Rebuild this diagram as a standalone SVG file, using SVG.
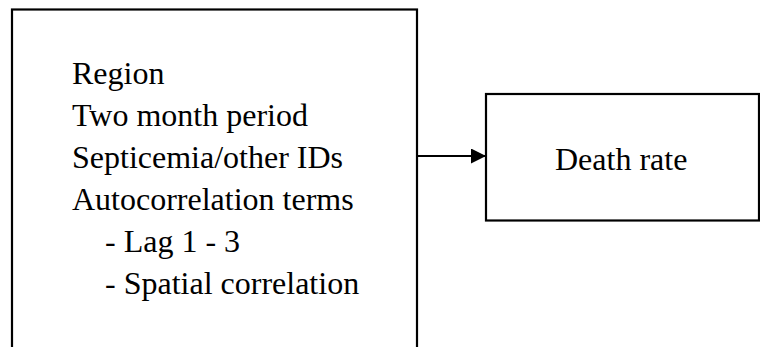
<svg xmlns="http://www.w3.org/2000/svg" width="760" height="347" viewBox="0 0 760 347">
<style>
.box{fill:#fff;stroke:#000;stroke-width:2.2}
.t{font-family:"Liberation Serif","Times New Roman",serif;font-size:32px;fill:#000}
.conn{stroke:#000;stroke-width:1.8;fill:none}
</style>
<defs>
<marker id="ah" markerWidth="15" markerHeight="15" refX="15" refY="7.5" orient="auto" markerUnits="userSpaceOnUse">
<path d="M0,0 L15,7.5 L0,15 Z" fill="#000"/>
</marker>
</defs>
<rect width="760" height="347" fill="#fff"/>
<g id="factors">
<rect class="box" x="12" y="9.5" width="405" height="360"/>
<text class="t" x="72" y="84">Region</text>
<text class="t" x="72" y="126">Two month period</text>
<text class="t" x="72" y="168">Septicemia/other IDs</text>
<text class="t" x="72" y="210">Autocorrelation terms</text>
<text class="t" x="105" y="252">- Lag 1 - 3</text>
<text class="t" x="105" y="294">- Spatial correlation</text>
</g>
<g id="death-rate">
<rect class="box" x="486" y="94" width="273" height="126.5"/>
<text class="t" x="555" y="170">Death rate</text>
</g>
<g id="connectors">
<line class="conn" x1="417" y1="156" x2="486" y2="156" marker-end="url(#ah)"/>
</g>
</svg>
